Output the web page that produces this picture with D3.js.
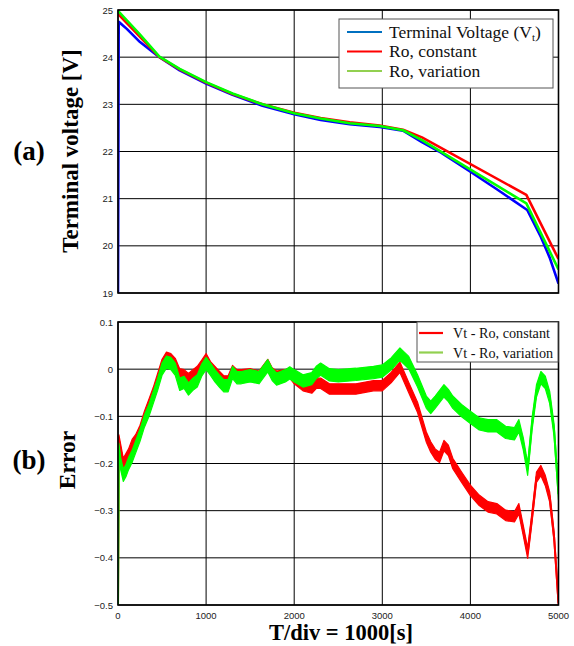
<!DOCTYPE html>
<html>
<head>
<meta charset="utf-8">
<script src="https://cdn.jsdelivr.net/npm/d3@7"></script>
<style>
  body { margin: 0; background: #fff; }
  svg { display: block; }
</style>
</head>
<body>
<svg id="chart" width="574" height="646"></svg>
<script>
// time axis ticks and voltage / error ticks
const timeTicks = [0, 1000, 2000, 3000, 4000, 5000];
const voltTicks = [19, 20, 21, 22, 23, 24, 25];
const errTicks = [-0.5, -0.4, -0.3, -0.2, -0.1, 0, 0.1];

// (a) terminal voltage, [t, V]
const vtTerminal = [[0, 19], [8, 24.75], [100, 24.6], [250, 24.32], [470, 24.0], [700, 23.72], [1000, 23.44],
  [1300, 23.2], [1640, 22.97], [2000, 22.79], [2300, 22.67], [2630, 22.58], [2970, 22.52], [3235, 22.44],
  [3450, 22.2], [3645, 22.0], [4000, 21.57], [4300, 21.2], [4645, 20.76], [4800, 20.19], [4900, 19.75], [5000, 19.2]];
const roConstant = [[0, 24.92], [470, 24.0], [700, 23.74], [1000, 23.46], [1300, 23.22], [1640, 23.0], [2000, 22.82],
  [2300, 22.71], [2630, 22.62], [2970, 22.55], [3235, 22.46], [3450, 22.3], [4635, 21.08], [5000, 19.72]];
const roVariation = [[0, 24.98], [240, 24.5], [470, 24.01], [700, 23.75], [1000, 23.47], [1300, 23.23], [1640, 23.0],
  [2000, 22.81], [2300, 22.7], [2630, 22.6], [2970, 22.54], [3235, 22.45], [3450, 22.24], [4635, 20.9], [5000, 19.5]];

// (b) errors, [t, error]
const errConstant = [[0, -0.5], [10, -0.15], [30, -0.17], [60, -0.2], [90, -0.19], [120, -0.18], [160, -0.16], [200, -0.15],
  [250, -0.13], [300, -0.1], [350, -0.075], [400, -0.05], [450, -0.02], [500, 0.01], [550, 0.025], [600, 0.022],
  [650, 0.012], [700, -0.01], [750, -0.012], [800, -0.02], [850, -0.012], [900, -0.005], [950, 0.008], [1000, 0.022],
  [1050, 0.005], [1100, -0.005], [1150, -0.015], [1200, -0.025], [1250, -0.025], [1300, -0.003], [1350, -0.012],
  [1400, -0.012], [1500, -0.01], [1600, -0.015], [1700, 0.01], [1750, -0.008], [1800, -0.015], [1900, -0.012],
  [1950, -0.008], [2000, -0.02], [2100, -0.035], [2200, -0.04], [2250, -0.03], [2300, -0.03], [2400, -0.042],
  [2500, -0.042], [2700, -0.042], [2900, -0.035], [3000, -0.035], [3100, -0.018], [3200, 0.004], [3300, -0.039],
  [3400, -0.081], [3500, -0.144], [3550, -0.165], [3600, -0.18], [3650, -0.187], [3700, -0.162], [3750, -0.172],
  [3800, -0.2], [3900, -0.229], [4000, -0.257], [4100, -0.278], [4200, -0.292], [4300, -0.296], [4400, -0.31],
  [4500, -0.313], [4550, -0.296], [4600, -0.342], [4650, -0.39], [4700, -0.313], [4750, -0.229], [4800, -0.215],
  [4850, -0.236], [4900, -0.271], [4950, -0.356], [5000, -0.496]];
const errVariation = [[0, -0.5], [10, -0.17], [30, -0.2], [60, -0.225], [90, -0.215], [120, -0.2], [160, -0.185],
  [200, -0.165], [250, -0.14], [300, -0.11], [350, -0.088], [400, -0.06], [450, -0.032], [500, 0.0], [550, 0.015],
  [600, 0.012], [650, 0.0], [700, -0.032], [750, -0.028], [800, -0.042], [850, -0.032], [900, -0.025], [950, -0.002],
  [1000, 0.012], [1050, 0.0], [1100, -0.014], [1150, -0.025], [1200, -0.035], [1250, -0.035], [1300, -0.007],
  [1350, -0.018], [1400, -0.018], [1500, -0.014], [1600, -0.018], [1700, 0.007], [1750, -0.011], [1800, -0.021],
  [1900, -0.014], [1950, -0.008], [2000, -0.014], [2100, -0.025], [2200, -0.02], [2250, -0.007], [2300, 0.0],
  [2400, -0.012], [2500, -0.014], [2700, -0.011], [2900, -0.007], [3000, -0.004], [3100, 0.011], [3200, 0.032],
  [3300, 0.014], [3400, -0.025], [3500, -0.07], [3550, -0.081], [3600, -0.07], [3700, -0.046], [3750, -0.056],
  [3800, -0.07], [3900, -0.088], [4000, -0.102], [4100, -0.116], [4200, -0.12], [4300, -0.12], [4400, -0.134],
  [4500, -0.137], [4550, -0.12], [4600, -0.158], [4650, -0.212], [4700, -0.116], [4750, -0.046], [4800, -0.018],
  [4850, -0.028], [4900, -0.06], [4950, -0.13], [5000, -0.265]];
// visible noise half-width of each error trace
const noiseConstant = 0.011;
const noiseVariation = 0.013;

const legendTop = ["Terminal Voltage (V", "Ro, constant", "Ro, variation"];
const legendBottom = ["Vt - Ro, constant", "Vt - Ro, variation"];

const svg = d3.select("#chart");
const x = d3.scaleLinear().domain([0, 5000]).range([118, 558.5]);
const yTop = d3.scaleLinear().domain([19, 25]).range([293, 10]);
const yBot = d3.scaleLinear().domain([-0.5, 0.1]).range([605, 322]);

const serif = "'Liberation Serif', 'Times New Roman', serif";
const sans = "'Liberation Sans', Arial, sans-serif";

function panel(y, ticks, fmt, id, showX) {
  const g = svg.append("g");
  g.append("defs").append("clipPath").attr("id", id).append("rect")
    .attr("x", x(0)).attr("y", y.range()[1]).attr("width", x(5000) - x(0)).attr("height", y.range()[0] - y.range()[1]);
  g.append("g").selectAll("line").data(ticks).join("line")
    .attr("x1", x(0)).attr("x2", x(5000)).attr("y1", d => y(d)).attr("y2", d => y(d))
    .attr("stroke", "#000").attr("stroke-width", 1);
  g.append("g").selectAll("line").data(timeTicks).join("line")
    .attr("x1", d => x(d)).attr("x2", d => x(d)).attr("y1", y.range()[0]).attr("y2", y.range()[1])
    .attr("stroke", "#000").attr("stroke-width", 1);
  g.append("g").selectAll("text").data(ticks).join("text")
    .attr("x", x(0) - 5).attr("y", d => y(d) + 3.5).attr("text-anchor", "end")
    .attr("font-family", sans).attr("font-size", 9.5).attr("fill", "#222").text(fmt);
  if (showX) {
    g.append("g").selectAll("text").data(timeTicks).join("text")
      .attr("x", d => x(d)).attr("y", y.range()[0] + 14).attr("text-anchor", "middle")
      .attr("font-family", sans).attr("font-size", 9.5).attr("fill", "#222").text(d => d);
  }
  return g;
}

function frame(y) {
  svg.append("rect").attr("x", x(0)).attr("y", y.range()[1])
    .attr("width", x(5000) - x(0)).attr("height", y.range()[0] - y.range()[1])
    .attr("fill", "none").attr("stroke", "#000").attr("stroke-width", 1.6);
}

// ---- (a) ----
const gA = panel(yTop, voltTicks, d => d, "clipA", false);
const lineA = d3.line().x(d => x(d[0])).y(d => yTop(d[1]));
const plotA = gA.append("g").attr("clip-path", "url(#clipA)");
[[vtTerminal, "#0000ff"], [roConstant, "#ff0000"], [roVariation, "#00ff00"]].forEach(([s, c]) => {
  plotA.append("path").datum(s).attr("d", lineA).attr("fill", "none")
    .attr("stroke", c).attr("stroke-width", 2.6).attr("stroke-linejoin", "round");
});
frame(yTop);

// legend (a)
const legA = svg.append("g");
legA.append("rect").attr("x", 339).attr("y", 19).attr("width", 214).attr("height", 69)
  .attr("fill", "#fff").attr("stroke", "#555").attr("stroke-width", 1);
const legAColors = ["#0070c0", "#ff0000", "#92d050"];
legendTop.forEach((t, i) => {
  const yy = 32 + i * 19.5;
  legA.append("line").attr("x1", 347).attr("x2", 382).attr("y1", yy).attr("y2", yy)
    .attr("stroke", legAColors[i]).attr("stroke-width", 2.2);
  const tx = legA.append("text").attr("x", 389).attr("y", yy + 5.5)
    .attr("font-family", serif).attr("font-size", 17.5).attr("fill", "#111").text(t);
  if (i === 0) {
    tx.append("tspan").attr("font-size", 11).attr("dy", 3).text("t");
    tx.append("tspan").attr("dy", -3).text(")");
  }
});

// ---- (b) ----
const gB = panel(yBot, errTicks, d => d3.format("")(+d.toFixed(1)), "clipB", true);
const plotB = gB.append("g").attr("clip-path", "url(#clipB)");
const lineB = d3.line().x(d => x(d[0])).y(d => yBot(d[1]));
[[errConstant, noiseConstant, "#ff0000"], [errVariation, noiseVariation, "#00ff00"]].forEach(([s, hw, c]) => {
  const band = d3.area().x(d => x(d[0])).y0(d => yBot(d[1] - hw)).y1(d => yBot(d[1] + hw));
  plotB.append("path").datum(s.slice(1)).attr("d", band).attr("fill", c)
    .attr("stroke", c).attr("stroke-width", 1.2).attr("stroke-linejoin", "round");
  plotB.append("path").datum(s).attr("d", lineB).attr("fill", "none")
    .attr("stroke", c).attr("stroke-width", 2);
});
frame(yBot);

// legend (b)
const legB = svg.append("g");
legB.append("rect").attr("x", 417).attr("y", 322).attr("width", 141).attr("height", 40)
  .attr("fill", "#fff").attr("stroke", "#555").attr("stroke-width", 1);
const legBColors = ["#ff0000", "#92d050"];
legendBottom.forEach((t, i) => {
  const yy = 333 + i * 19.5;
  legB.append("line").attr("x1", 419).attr("x2", 443).attr("y1", yy).attr("y2", yy)
    .attr("stroke", legBColors[i]).attr("stroke-width", 2.2);
  legB.append("text").attr("x", 453).attr("y", yy + 5)
    .attr("font-family", serif).attr("font-size", 14.2).attr("fill", "#111").text(t);
});

// axis titles and panel tags
svg.append("text").attr("transform", "translate(78,151) rotate(-90)").attr("text-anchor", "middle")
  .attr("font-family", serif).attr("font-weight", "bold").attr("font-size", 23).text("Terminal voltage [V]");
svg.append("text").attr("transform", "translate(75,460) rotate(-90)").attr("text-anchor", "middle")
  .attr("font-family", serif).attr("font-weight", "bold").attr("font-size", 23.5).text("Error");
svg.append("text").attr("x", 29).attr("y", 160).attr("text-anchor", "middle")
  .attr("font-family", serif).attr("font-weight", "bold").attr("font-size", 27).text("(a)");
svg.append("text").attr("x", 29).attr("y", 469).attr("text-anchor", "middle")
  .attr("font-family", serif).attr("font-weight", "bold").attr("font-size", 27).text("(b)");
svg.append("text").attr("x", 341).attr("y", 640).attr("text-anchor", "middle")
  .attr("font-family", serif).attr("font-weight", "bold").attr("font-size", 22.5).text("T/div = 1000[s]");
</script>
</body>
</html>
